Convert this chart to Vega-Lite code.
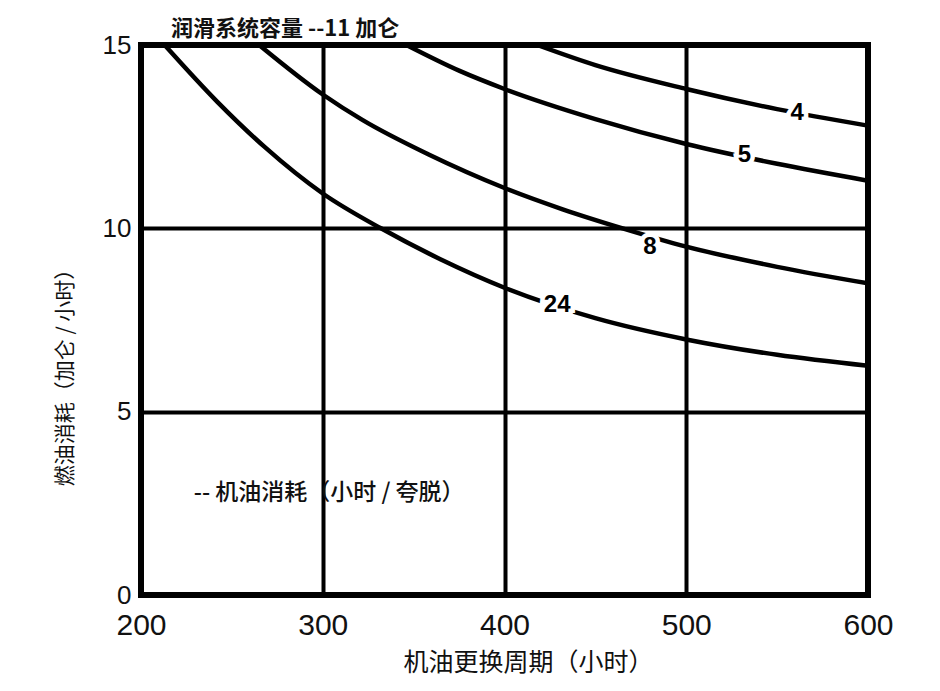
{
  "$schema": "https://vega.github.io/schema/vega-lite/v6.json",
  "width": 727,
  "height": 550,
  "autosize": "none",
  "padding": {"left": 141, "top": 45, "right": 72, "bottom": 96},
  "background": "white",
  "title": {
    "text": "润滑系统容量 --11 加仑",
    "anchor": "start",
    "frame": "group",
    "dx": 30,
    "offset": -9,
    "font": "Noto Sans CJK SC",
    "fontSize": 22,
    "fontWeight": "bold",
    "color": "#111"
  },
  "config": {
    "view": {"stroke": "black", "strokeWidth": 6},
    "axis": {"domain": false, "ticks": false, "grid": true, "gridColor": "black", "gridWidth": 4, "gridOpacity": 1}
  },
  "datasets": {
    "curves": [
      {"series": "24", "x": 213, "y": 15},
      {"series": "24", "x": 242, "y": 13.45},
      {"series": "24", "x": 268, "y": 12.22},
      {"series": "24", "x": 300, "y": 10.95},
      {"series": "24", "x": 332, "y": 10.0},
      {"series": "24", "x": 365, "y": 9.15},
      {"series": "24", "x": 400, "y": 8.38},
      {"series": "24", "x": 450, "y": 7.55},
      {"series": "24", "x": 500, "y": 6.97},
      {"series": "24", "x": 550, "y": 6.55},
      {"series": "24", "x": 600, "y": 6.25},
      {"series": "8", "x": 265, "y": 15},
      {"series": "8", "x": 300, "y": 13.65},
      {"series": "8", "x": 322, "y": 12.95},
      {"series": "8", "x": 358, "y": 12.02},
      {"series": "8", "x": 400, "y": 11.1},
      {"series": "8", "x": 432, "y": 10.52},
      {"series": "8", "x": 465, "y": 10.0},
      {"series": "8", "x": 500, "y": 9.5},
      {"series": "8", "x": 550, "y": 8.95},
      {"series": "8", "x": 600, "y": 8.5},
      {"series": "5", "x": 346, "y": 15},
      {"series": "5", "x": 375, "y": 14.3},
      {"series": "5", "x": 400, "y": 13.8},
      {"series": "5", "x": 450, "y": 12.98},
      {"series": "5", "x": 500, "y": 12.3},
      {"series": "5", "x": 550, "y": 11.76},
      {"series": "5", "x": 600, "y": 11.3},
      {"series": "4", "x": 418, "y": 15},
      {"series": "4", "x": 450, "y": 14.45},
      {"series": "4", "x": 500, "y": 13.8},
      {"series": "4", "x": 550, "y": 13.25},
      {"series": "4", "x": 600, "y": 12.8}
    ],
    "labels": [
      {"label": "4", "x": 561, "y": 13.15},
      {"label": "5", "x": 532, "y": 12.0},
      {"label": "8", "x": 480, "y": 9.5},
      {"label": "24", "x": 429, "y": 7.9}
    ],
    "notes": [
      {"note": "-- 机油消耗（小时 / 夸脱）", "x": 229, "y": 2.78}
    ]
  },
  "layer": [
    {
      "data": {"name": "curves"},
      "mark": {"type": "line", "color": "black", "strokeWidth": 4.5, "interpolate": "monotone", "clip": true},
      "encoding": {
        "x": {
          "field": "x", "type": "quantitative",
          "scale": {"domain": [200, 600], "nice": false, "zero": false},
          "axis": {
            "values": [200, 300, 400, 500, 600],
            "title": "机油更换周期（小时）",
            "titleFont": "Noto Sans CJK SC",
            "titleFontSize": 25,
            "titleFontWeight": "normal",
            "titleColor": "#111",
            "titleX": 387,
            "titleY": 67,
            "titleBaseline": "middle",
            "titleAlign": "center",
            "labelFont": "Liberation Sans",
            "labelFontSize": 30,
            "labelColor": "#111",
            "labelPadding": 15,
            "labelDx": 8,
            "labelFlush": false,
            "labelOverlap": false
          }
        },
        "y": {
          "field": "y", "type": "quantitative",
          "scale": {"domain": [0, 15], "nice": false},
          "axis": {
            "values": [0, 5, 10, 15],
            "title": "燃油消耗（加仑 / 小时）",
            "titleFont": "Noto Sans CJK SC",
            "titleFontSize": 21,
            "titleFontWeight": "normal",
            "titleColor": "#111",
            "titleAngle": -90,
            "titleX": -76,
            "titleY": 327,
            "titleAlign": "center",
            "titleBaseline": "middle",
            "labelFont": "Liberation Sans",
            "labelFontSize": 26,
            "labelColor": "#111",
            "labelPadding": 10,
            "labelFlush": false,
            "labelOverlap": false
          }
        },
        "detail": {"field": "series"}
      }
    },
    {
      "data": {"name": "labels"},
      "mark": {"type": "text", "font": "Liberation Sans", "fontSize": 24, "fontWeight": "bold", "stroke": "white", "strokeWidth": 9, "fill": "white", "align": "center", "baseline": "middle"},
      "encoding": {
        "x": {"field": "x", "type": "quantitative"},
        "y": {"field": "y", "type": "quantitative"},
        "text": {"field": "label"}
      }
    },
    {
      "data": {"name": "labels"},
      "mark": {"type": "text", "font": "Liberation Sans", "fontSize": 24, "fontWeight": "bold", "color": "black", "align": "center", "baseline": "middle"},
      "encoding": {
        "x": {"field": "x", "type": "quantitative"},
        "y": {"field": "y", "type": "quantitative"},
        "text": {"field": "label"}
      }
    },
    {
      "data": {"name": "notes"},
      "mark": {"type": "text", "font": "Noto Sans CJK SC", "fontSize": 23, "fontWeight": 500, "color": "#111", "align": "left", "baseline": "middle"},
      "encoding": {
        "x": {"field": "x", "type": "quantitative"},
        "y": {"field": "y", "type": "quantitative"},
        "text": {"field": "note"}
      }
    }
  ]
}
